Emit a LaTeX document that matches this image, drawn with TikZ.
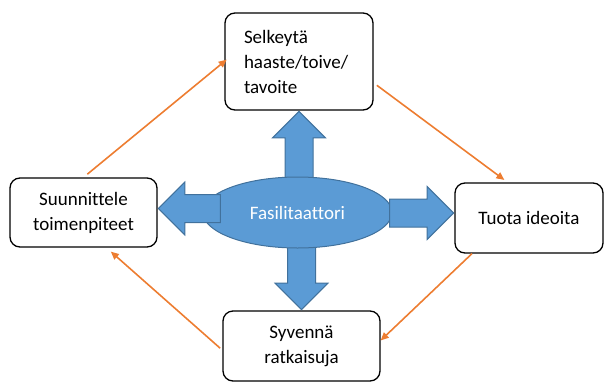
\documentclass[tikz,border=0pt]{standalone}
\usepackage{fontspec}
\setmainfont{Carlito}[Ligatures=NoCommon]
\usetikzlibrary{arrows.meta,positioning,shapes.geometric,shapes.arrows,calc}
\definecolor{fillblue}{HTML}{5B9BD5}
\definecolor{edgeblue}{HTML}{41719C}
\definecolor{flowor}{HTML}{ED7D31}
\tikzset{
 box/.style={draw,line width=1.3pt,rounded corners=10pt,align=center,
             font=\fontsize{19}{25}\selectfont},
 hub/.style={ellipse,draw=edgeblue,fill=fillblue,line width=1pt,
             minimum width=189pt,minimum height=71pt,inner sep=0pt,
             text=white,font=\fontsize{19}{25}\selectfont},
 blockarrow/.style={single arrow,draw=edgeblue,fill=fillblue,line width=1pt,
             inner sep=13.5pt,single arrow head extend=12.5pt,anchor=tip},
 arrow/.style={-{Triangle[length=8pt,width=7pt]},draw=flowor,line width=1.6pt}
}
\begin{document}
\begin{tikzpicture}[x=1pt,y=-1pt]
\useasboundingbox (0,0) rectangle (604,383);
\node[box,minimum width=148pt,minimum height=97pt,text width=110pt,align=left] (sel) at (299,61.5) {Selkeytä\\haaste/toive/\\tavoite};
\node[box,minimum width=147pt,minimum height=69pt] (suun) at (83.5,212.5) {Suunnittele\\toimenpiteet};
\node[box,minimum width=148pt,minimum height=70pt] (tuota) at (529,218) {Tuota ideoita};
\node[box,minimum width=157pt,minimum height=70pt] (syv) at (301.5,346) {Syvennä\\ratkaisuja};
% vertical arrows sit behind the hub
\node[blockarrow,shape border rotate=90,minimum height=75pt] (up) at (sel.south) {};
\node[blockarrow,shape border rotate=270,minimum height=71pt] (down) at (syv.north) {};
\node[hub] (fas) at (297.5,212.5) {Fasilitaattori};
\node[blockarrow,shape border rotate=180,minimum height=62pt,yshift=4pt] (left) at (suun.east) {};
\node[blockarrow,shape border rotate=0,minimum height=64pt,yshift=5pt] (right) at (tuota.west) {};
% cycle
\draw[arrow,shorten <=5pt,shorten >=-3pt] (suun.north)--(sel.west);
\draw[arrow,shorten <=4pt,shorten >=4pt] (sel.-16)--(tuota.121);
\draw[arrow] (tuota.212)--(syv.4);
\draw[arrow,shorten <=3pt,shorten >=6pt] (syv.183)--(suun.303);
\end{tikzpicture}
\end{document}
